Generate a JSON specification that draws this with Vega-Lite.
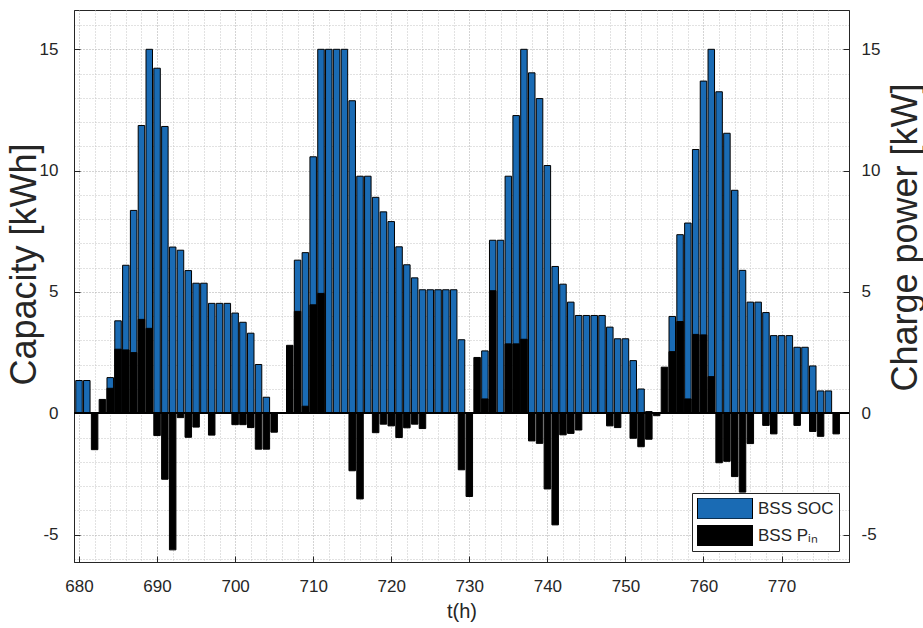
{
  "$schema": "https://vega.github.io/schema/vega-lite/v6.json",
  "width": 775,
  "height": 552,
  "autosize": {"type": "none"},
  "padding": {"left": 74, "top": 10, "right": 74, "bottom": 66},
  "background": "white",
  "config": {
    "font": "Liberation Sans, Arial, sans-serif",
    "view": {"stroke": "#262626", "strokeWidth": 1},
    "axis": {
      "domainColor": "#262626",
      "domainWidth": 1,
      "tickColor": "#262626",
      "labelColor": "#262626",
      "labelFontSize": 17,
      "labelOverlap": false,
      "labelFlush": false,
      "titleColor": "#262626",
      "titleFontWeight": "normal"
    }
  },
  "data": {
    "values": [
      {"h": 680, "soc": 1.35, "p": 0}, {"h": 681, "soc": 1.35, "p": 0},
      {"h": 682, "soc": 0, "p": -1.5}, {"h": 683, "soc": 0, "p": 0.57},
      {"h": 684, "soc": 1.47, "p": 1.03}, {"h": 685, "soc": 3.81, "p": 2.64},
      {"h": 686, "soc": 6.1, "p": 2.61}, {"h": 687, "soc": 8.36, "p": 2.5},
      {"h": 688, "soc": 11.86, "p": 3.87}, {"h": 689, "soc": 15.0, "p": 3.5},
      {"h": 690, "soc": 14.22, "p": -0.92}, {"h": 691, "soc": 11.82, "p": -2.72},
      {"h": 692, "soc": 6.85, "p": -5.63}, {"h": 693, "soc": 6.72, "p": -0.18},
      {"h": 694, "soc": 5.88, "p": -0.99}, {"h": 695, "soc": 5.36, "p": -0.57},
      {"h": 696, "soc": 5.36, "p": 0}, {"h": 697, "soc": 4.53, "p": -0.9},
      {"h": 698, "soc": 4.53, "p": 0}, {"h": 699, "soc": 4.53, "p": 0},
      {"h": 700, "soc": 4.13, "p": -0.47}, {"h": 701, "soc": 3.75, "p": -0.47},
      {"h": 702, "soc": 3.3, "p": -0.59}, {"h": 703, "soc": 2.01, "p": -1.48},
      {"h": 704, "soc": 0.66, "p": -1.48}, {"h": 705, "soc": 0, "p": -0.78},
      {"h": 706, "soc": 0, "p": 0}, {"h": 707, "soc": 0, "p": 2.8},
      {"h": 708, "soc": 6.31, "p": 4.2}, {"h": 709, "soc": 6.62, "p": 0.29},
      {"h": 710, "soc": 10.57, "p": 4.47}, {"h": 711, "soc": 15.0, "p": 4.94},
      {"h": 712, "soc": 15.0, "p": 0}, {"h": 713, "soc": 15.0, "p": 0},
      {"h": 714, "soc": 15.0, "p": 0}, {"h": 715, "soc": 12.88, "p": -2.37},
      {"h": 716, "soc": 9.77, "p": -3.53}, {"h": 717, "soc": 9.77, "p": 0},
      {"h": 718, "soc": 8.9, "p": -0.8}, {"h": 719, "soc": 8.3, "p": -0.45},
      {"h": 720, "soc": 7.9, "p": -0.52}, {"h": 721, "soc": 6.86, "p": -1.0},
      {"h": 722, "soc": 6.12, "p": -0.6}, {"h": 723, "soc": 5.58, "p": -0.45},
      {"h": 724, "soc": 5.09, "p": -0.63}, {"h": 725, "soc": 5.09, "p": 0},
      {"h": 726, "soc": 5.09, "p": 0}, {"h": 727, "soc": 5.09, "p": 0},
      {"h": 728, "soc": 5.09, "p": 0}, {"h": 729, "soc": 3.03, "p": -2.33},
      {"h": 730, "soc": 0, "p": -3.43}, {"h": 731, "soc": 0, "p": 2.3},
      {"h": 732, "soc": 2.57, "p": 0.59}, {"h": 733, "soc": 7.13, "p": 5.05},
      {"h": 734, "soc": 7.13, "p": 0}, {"h": 735, "soc": 9.77, "p": 2.86},
      {"h": 736, "soc": 12.27, "p": 2.86}, {"h": 737, "soc": 15.0, "p": 3.05},
      {"h": 738, "soc": 14.03, "p": -1.14}, {"h": 739, "soc": 12.97, "p": -1.24},
      {"h": 740, "soc": 10.21, "p": -3.12}, {"h": 741, "soc": 6.05, "p": -4.6},
      {"h": 742, "soc": 5.32, "p": -0.89}, {"h": 743, "soc": 4.58, "p": -0.83},
      {"h": 744, "soc": 4.03, "p": -0.69}, {"h": 745, "soc": 4.03, "p": 0},
      {"h": 746, "soc": 4.03, "p": 0}, {"h": 747, "soc": 4.03, "p": 0},
      {"h": 748, "soc": 3.55, "p": -0.52}, {"h": 749, "soc": 3.07, "p": -0.59},
      {"h": 750, "soc": 3.07, "p": 0}, {"h": 751, "soc": 2.17, "p": -1.03},
      {"h": 752, "soc": 1.0, "p": -1.38}, {"h": 753, "soc": 0.07, "p": -1.07},
      {"h": 754, "soc": 0, "p": -0.1}, {"h": 755, "soc": 0, "p": 1.9},
      {"h": 756, "soc": 3.99, "p": 2.54}, {"h": 757, "soc": 7.36, "p": 3.78},
      {"h": 758, "soc": 7.84, "p": 0.59}, {"h": 759, "soc": 10.87, "p": 3.25},
      {"h": 760, "soc": 13.69, "p": 3.23}, {"h": 761, "soc": 15.0, "p": 1.51},
      {"h": 762, "soc": 13.25, "p": -2.04}, {"h": 763, "soc": 11.54, "p": -1.98},
      {"h": 764, "soc": 9.19, "p": -2.61}, {"h": 765, "soc": 5.89, "p": -3.25},
      {"h": 766, "soc": 4.58, "p": -1.25}, {"h": 767, "soc": 4.58, "p": 0},
      {"h": 768, "soc": 4.15, "p": -0.5}, {"h": 769, "soc": 3.2, "p": -0.85},
      {"h": 770, "soc": 3.2, "p": 0}, {"h": 771, "soc": 3.2, "p": 0},
      {"h": 772, "soc": 2.72, "p": -0.5}, {"h": 773, "soc": 2.72, "p": 0},
      {"h": 774, "soc": 1.95, "p": -0.75}, {"h": 775, "soc": 0.92, "p": -0.95},
      {"h": 776, "soc": 0.92, "p": 0}, {"h": 777, "soc": 0, "p": -0.85}
    ]
  },
  "layer": [
    {
      "mark": {"type": "bar", "size": 6.5, "stroke": "black", "strokeWidth": 1},
      "encoding": {
        "x": {
          "field": "h",
          "type": "quantitative",
          "scale": {"domain": [680, 778], "nice": false, "zero": false},
          "axis": {
            "values": [680, 682, 684, 686, 688, 690, 692, 694, 696, 698, 700, 702, 704, 706, 708, 710, 712, 714, 716, 718, 720, 722, 724, 726, 728, 730, 732, 734, 736, 738, 740, 742, 744, 746, 748, 750, 752, 754, 756, 758, 760, 762, 764, 766, 768, 770, 772, 774, 776],
            "tickCount": 200,
            "labelExpr": "datum.value % 10 === 0 ? '' + datum.value : ''",
            "labelPadding": 22,
            "tickSize": -6,
            "tickOpacity": {"condition": {"test": "datum.value % 10 === 0", "value": 1}, "value": 0},
            "grid": true,
            "gridDash": [1, 2],
            "gridColor": {"condition": {"test": "datum.value % 10 === 0", "value": "#a8a8a8"}, "value": "#c4c4c4"},
            "title": "t(h)",
            "titleFontSize": 20,
            "titleY": 55,
            "titleBaseline": "alphabetic"
          }
        },
        "y": {
          "field": "soc",
          "type": "quantitative",
          "scale": {"domain": [-6.13, 16.62], "nice": false, "zero": false},
          "axis": {
            "orient": "left",
            "values": [-6, -5, -4, -3, -2, -1, 0, 1, 2, 3, 4, 5, 6, 7, 8, 9, 10, 11, 12, 13, 14, 15, 16],
            "tickCount": 200,
            "labelExpr": "datum.value % 5 === 0 ? '' + datum.value : ''",
            "labelPadding": 22,
            "tickSize": -6,
            "tickOpacity": {"condition": {"test": "datum.value % 5 === 0", "value": 1}, "value": 0},
            "grid": true,
            "gridDash": [1, 2],
            "gridColor": {"condition": {"test": "datum.value % 5 === 0", "value": "#a8a8a8"}, "value": "#c4c4c4"},
            "title": "Capacity [kWh]",
            "titleFontSize": 36,
            "titleAngle": 270,
            "titleX": -39,
            "titleY": 254,
            "titleAlign": "center",
            "titleBaseline": "alphabetic"
          }
        },
        "color": {
          "datum": "BSS SOC",
          "type": "nominal",
          "scale": {"domain": ["BSS SOC", "BSS Pᵢₙ"], "range": ["#1a6bb4", "#000000"]},
          "legend": {
            "title": null,
            "orient": "none",
            "legendX": 618,
            "legendY": 483,
            "fillColor": "white",
            "strokeColor": "#262626",
            "padding": 5,
            "symbolType": "M-1,-0.38H1V0.38H-1Z",
            "symbolSize": 3025,
            "clipHeight": 21,
            "symbolStrokeColor": "black",
            "symbolStrokeWidth": 1,
            "symbolOpacity": 1,
            "labelFontSize": 17,
            "labelColor": "#262626",
            "labelOffset": 5,
            "rowPadding": 6
          }
        }
      }
    },
    {
      "mark": {"type": "bar", "size": 6.5, "stroke": "black", "strokeWidth": 1},
      "encoding": {
        "x": {
          "field": "h",
          "type": "quantitative",
          "scale": {"domain": [680, 778], "nice": false, "zero": false}
        },
        "y": {
          "field": "p",
          "type": "quantitative",
          "scale": {"domain": [-6.13, 16.62], "nice": false, "zero": false},
          "axis": {
            "orient": "right",
            "values": [-5, 0, 5, 10, 15],
            "labelExpr": "'' + datum.value",
            "labelPadding": 18,
            "tickSize": -6,
            "grid": false,
            "title": "Charge power [kW]",
            "titleFontSize": 36,
            "titleAngle": 270,
            "titleX": 67,
            "titleY": 227,
            "titleAlign": "center",
            "titleBaseline": "alphabetic"
          }
        },
        "color": {"datum": "BSS Pᵢₙ", "type": "nominal"}
      }
    },
    {
      "mark": {"type": "rule", "color": "black", "strokeWidth": 1},
      "encoding": {
        "y": {
          "datum": 0,
          "type": "quantitative",
          "scale": {"domain": [-6.13, 16.62], "nice": false, "zero": false},
          "axis": null
        }
      }
    }
  ],
  "resolve": {"axis": {"y": "independent"}}
}
